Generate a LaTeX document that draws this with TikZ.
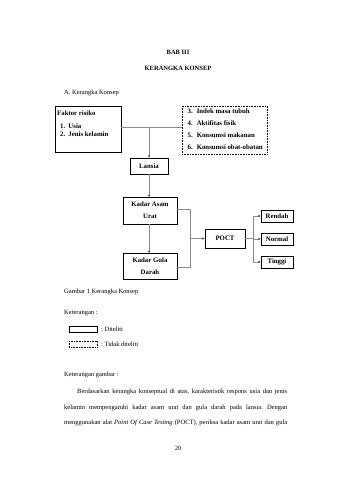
\documentclass[tikz,border=0pt]{standalone}
\usepackage{fontspec}
\setmainfont{Liberation Serif}
\usetikzlibrary{arrows.meta}
\frenchspacing
\begin{document}
\begin{tikzpicture}[x=1pt,y=-1pt,
  txt/.style={inner sep=0pt,font=\fontsize{6.5}{7}\selectfont},
  dtxt/.style={inner sep=0pt,font=\fontsize{6.8}{7}\selectfont\bfseries},
  solidbox/.style={draw=black,line width=0.6pt},
  dotbox/.style={draw=black,line width=0.6pt,densely dotted},
  conn/.style={draw=black!45,line width=0.5pt},
  arr/.style={conn,-{Stealth[length=2.6pt,width=2.2pt,black!80]}}]
\useasboundingbox (0,0) rectangle (339,480);
\fill[white] (0,0) rectangle (339,480);
% headings
\node[inner sep=0pt,font=\fontsize{6.5}{7}\selectfont\bfseries] (bab) at (178,52.5) {BAB III};
\node[inner sep=0pt,font=\fontsize{6.5}{7}\selectfont\bfseries] (kk) at (178,68) {KERANGKA KONSEP};
\node[txt,anchor=west] (sub) at (64,93) {A. Kerangka Konsep};
% left box
\draw[solidbox] (55,106.5) rectangle (121,152.5);
\coordinate (lbR) at (121,127.5);
\node[dtxt,anchor=west] (fr) at (57,113) {Faktor risiko};
\node[dtxt,anchor=west] (u1) at (60,126) {1.\hspace{3.2pt}Usia};
\node[dtxt,anchor=west] (u2) at (60,134) {2.\hspace{3.2pt}Jenis kelamin};
% right box
\draw[dotbox] (182,106) rectangle (267,154);
\coordinate (rbL) at (182,127.5);
\node[dtxt,anchor=west] (r3) at (187.5,111) {3.\hspace{4pt}Indek masa tubuh};
\node[dtxt,anchor=west] (r4) at (187.5,123.5) {4.\hspace{4pt}Aktifitas fisik};
\node[dtxt,anchor=west] (r5) at (187.5,135.5) {5.\hspace{4pt}Konsumsi makanan};
\node[dtxt,anchor=west] (r6) at (187.5,147.5) {6.\hspace{4pt}Konsumsi obat-obatan};
% Lansia
\node[solidbox,dtxt,minimum width=38pt,minimum height=16pt] (lansia) at (149,166) {Lansia};
% Kadar Asam Urat
\node[solidbox,dtxt,minimum width=54pt,minimum height=27pt,align=center,font=\fontsize{6.8}{12}\selectfont\bfseries] (asam) at (150,210.5) {Kadar Asam\\Urat};
\node[solidbox,dtxt,minimum width=54pt,minimum height=26pt,align=center,font=\fontsize{6.8}{12}\selectfont\bfseries] (gula) at (150,266) {Kadar Gula\\Darah};
% POCT
\node[solidbox,dtxt,minimum width=40pt,minimum height=19pt] (poct) at (225,238.5) {POCT};
% outputs
\node[solidbox,dtxt,minimum width=32pt,minimum height=12pt] (rendah) at (277,216) {Rendah};
\node[solidbox,dtxt,minimum width=32pt,minimum height=12pt] (normal) at (277,239) {Normal};
\node[solidbox,dtxt,minimum width=32pt,minimum height=12pt] (tinggi) at (277,262) {Tinggi};
% connectors
\coordinate (jn) at (149,127.5);
\draw[conn] (lbR) -- (rbL);
\draw[arr] (jn) -- (lansia.north);
\draw[arr] (lansia.south) -- (149,197);
\draw[arr] (149,224) -- (149,253);
\coordinate (mx) at (190,238.5);
\draw[conn] (asam.east |- 0,209) -- (190,209) -- (190,267) -- (gula.east |- 0,267);
\draw[arr] (mx) -- (poct.west);
\coordinate (sx) at (253,238.5);
\draw[conn] (poct.east) -- (sx);
\draw[conn] (253,216) -- (253,262);
\draw[arr] (253,216) -- (rendah.west);
\draw[arr] (253,239) -- (normal.west);
\draw[arr] (253,262) -- (tinggi.west);
% caption and legend
\node[txt,anchor=west] (cap) at (64,292) {Gambar 1 Kerangka Konsep};
\node[txt,anchor=west] (ket) at (64,313) {Keterangan :};
\draw[solidbox,line width=0.5pt] (69,326) rectangle (97,332);
\node[txt,anchor=west] (dit) at (101,329) {: Diteliti};
\draw[dotbox,line width=0.5pt] (69,341) rectangle (97,347);
\node[txt,anchor=west] (tdit) at (101,344) {: Tidak diteliti};
% paragraph
\node[txt,anchor=west] (kg) at (64,375) {Keterangan gambar :};
\node[txt,anchor=west] (p1) at (77,392) {\makebox[210pt][s]{Berdasarkan kerangka konseptual di atas, karakteristik respons usia dan jenis}};
\node[txt,anchor=west] (p2) at (64,407.5) {\makebox[223pt][s]{kelamin mempengaruhi kadar asam urat dan gula darah pada lansia. Dengan}};
\node[txt,anchor=west] (p3) at (64,423) {\makebox[223pt][s]{menggunakan alat \textit{Point Of Case Testing} (POCT), periksa kadar asam urat dan gula}};
\node[txt] (pg) at (178,448) {20};
\end{tikzpicture}
\end{document}
